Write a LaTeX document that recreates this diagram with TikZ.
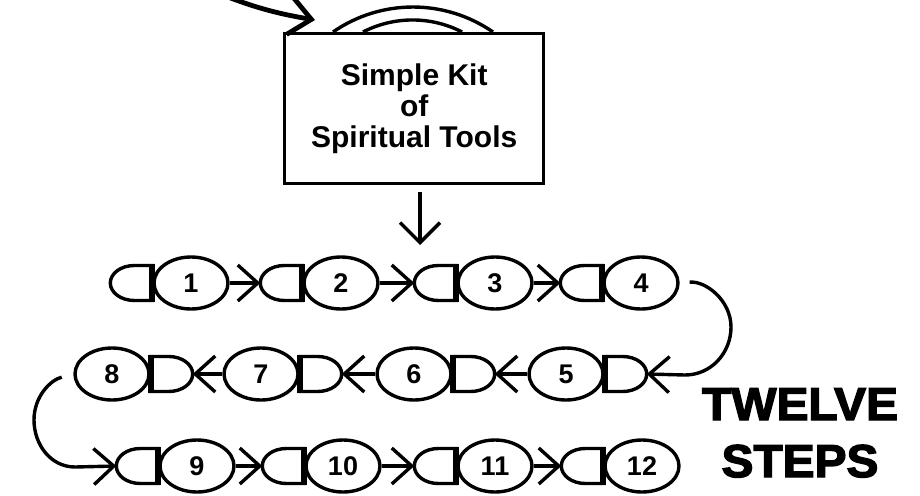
\documentclass[tikz,border=0pt]{standalone}
\usepackage{fontspec}
\setmainfont{Liberation Sans}
\newfontfamily\heavy{Liberation Sans}[FakeBold=3,FakeStretch=1.04]
\usetikzlibrary{shapes.geometric,arrows.meta,calc}
\newcommand\mkDL[2]{%
  \draw[lw] ($(#1.west)+(0,-17.5)$) -- ++(-18,0) arc[start angle=90,end angle=270,x radius=24pt,y radius=17.5pt] -- ++(18,0) -- cycle;
  \draw[bar] ($(#1.west)+(0,-19)$) -- ($(#1.west)+(0,19)$);
  \coordinate (#2) at ($(#1.west)+(-42,0)$);}
\newcommand\mkDR[2]{%
  \draw[lw] ($(#1.east)+(0,-17.5)$) -- ++(18,0) arc[start angle=90,end angle=-90,x radius=24pt,y radius=17.5pt] -- ++(-18,0) -- cycle;
  \draw[bar] ($(#1.east)+(0,-19)$) -- ($(#1.east)+(0,19)$);
  \coordinate (#2) at ($(#1.east)+(42,0)$);}
\begin{document}
\begin{tikzpicture}[x=1pt,y=-1pt,
  lw/.style={line width=3.4pt},
  bar/.style={line width=6pt},
  stepnode/.style={ellipse,draw,line width=3.4pt,minimum width=74pt,minimum height=52pt,inner sep=0pt,font=\fontsize{27}{27}\selectfont\bfseries},
  arr/.style={line width=3.4pt,-{Straight Barb[length=20pt,width=36pt]}},
  bigtext/.style={font=\heavy\bfseries\fontsize{46}{46}\selectfont,anchor=base}
]
\useasboundingbox (0,0) rectangle (920,495);
\clip (0,0) rectangle (920,495);
\fill[white] (0,0) rectangle (920,495);

% kit box with handle
\draw[lw] (333,32) arc[start angle=124.7,end angle=55.3,radius=140.5pt];
\draw[lw] (363,32) arc[start angle=117.3,end angle=62.7,radius=108pt];
\node[draw,line width=3.4pt,fill=white,minimum width=259pt,minimum height=150pt,anchor=north west,inner sep=0pt] (kit) at (283,32) {};
\node[font=\fontsize{30}{31}\selectfont\bfseries,align=center] (kittext) at (kit.center) {Simple Kit\\of\\Spiritual Tools};

% incoming arrow at top left
\coordinate (src) at (215,-8);
\coordinate (kittip) at (315,20);
\draw[line width=4.8pt,-{Straight Barb[length=22pt,width=38pt]}] (src) to[bend right=6] (kittip);

% arrow down
\coordinate (dtop) at (420,192);
\coordinate (dtip) at (420,245);
\draw[line width=3.4pt,-{Straight Barb[length=20pt,width=40pt]}] (dtop) -- (dtip);

% row 1
\node[stepnode] (e1) at (191,283) {1};
\node[stepnode] (e2) at (341,283) {2};
\node[stepnode] (e3) at (495,283) {3};
\node[stepnode] (e4) at (641,283) {4};
\mkDL{e1}{d1}\mkDL{e2}{d2}\mkDL{e3}{d3}\mkDL{e4}{d4}
\draw[arr] (e1.east) -- (d2);
\draw[arr] (e2.east) -- (d3);
\draw[arr] (e3.east) -- (d4);

% row 2
\node[stepnode] (e5) at (566,374) {5};
\node[stepnode] (e6) at (414,374) {6};
\node[stepnode] (e7) at (261,374) {7};
\node[stepnode] (e8) at (112,374) {8};
\mkDR{e5}{d5}\mkDR{e6}{d6}\mkDR{e7}{d7}\mkDR{e8}{d8}
\draw[arr] (e5.west) -- (d6);
\draw[arr] (e6.west) -- (d7);
\draw[arr] (e7.west) -- (d8);

% row 3
\node[stepnode] (e9) at (197,466) {9};
\node[stepnode] (e10) at (343,466) {10};
\node[stepnode] (e11) at (495,466) {11};
\node[stepnode] (e12) at (642,466) {12};
\mkDL{e9}{d9}\mkDL{e10}{d10}\mkDL{e11}{d11}\mkDL{e12}{d12}
\draw[arr] (e9.east) -- (d10);
\draw[arr] (e10.east) -- (d11);
\draw[arr] (e11.east) -- (d12);

% turn connectors
\coordinate (rc) at (731,327);
\coordinate (rcb) at (685,375);
\draw[arr,shorten <=10pt] (e4.east) to[out=5,in=90] (rc) to[out=-90,in=0] (rcb) -- (d5);
\coordinate (lc) at (34,420);
\coordinate (lcb) at (75,467);
\draw[arr,shorten <=12pt] (e8.west) to[out=195,in=90] (lc) to[out=-90,in=180] (lcb) -- (d9);

% title
\node[bigtext] (twelve) at (800,420) {TWELVE};
\node[bigtext] (steps) at (800,477) {STEPS};
\end{tikzpicture}
\end{document}
